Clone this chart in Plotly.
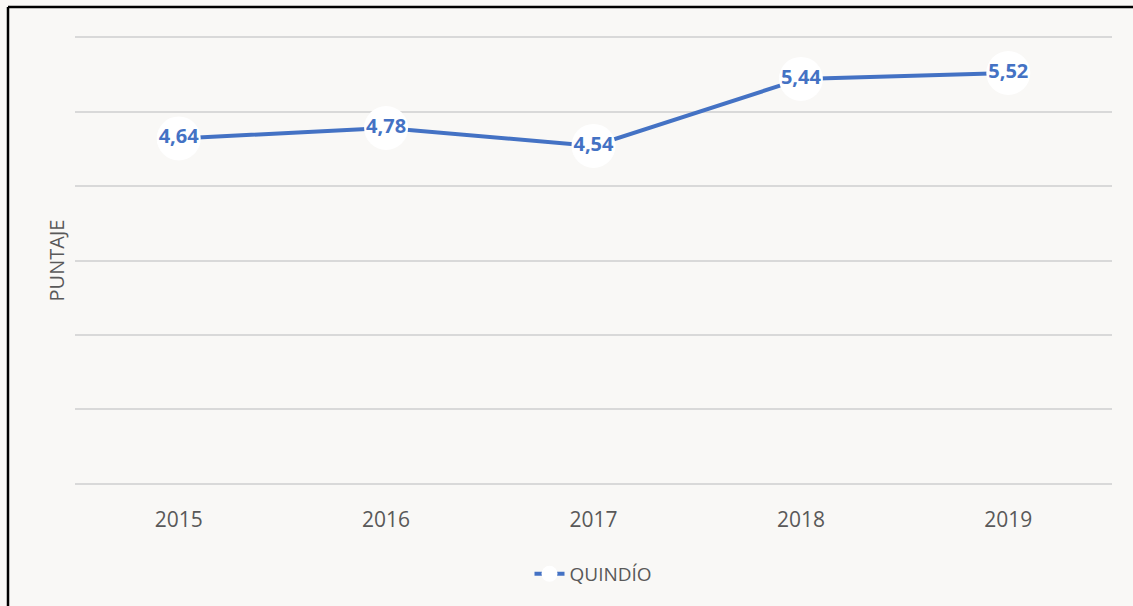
import plotly.graph_objects as go

years = ["2015", "2016", "2017", "2018", "2019"]
puntaje = [4.64, 4.78, 4.54, 5.44, 5.52]
series_name = "QUINDÍO"

W, H = 1133, 606
L, R, T, B = 75, 21, 35, 120
pw, ph = W - L - R, H - T - B

def px_x(p):
    return (p - L) / pw

def px_y(p):
    return (H - B - p) / ph

fig = go.Figure()
fig.add_trace(go.Scatter(
    x=years, y=puntaje, name=series_name,
    mode="lines+markers+text",
    line=dict(color="#4472C4", width=4),
    marker=dict(color="white", size=44, line=dict(width=0)),
    texttemplate="%{y:.2f}",
    textposition="middle center",
    textfont=dict(family="Open Sans", size=20, color="#4472C4", weight="bold"),
    cliponaxis=False,
))

fig.update_layout(
    width=W, height=H,
    margin=dict(l=L, r=R, t=T, b=B),
    paper_bgcolor="#f9f8f6",
    plot_bgcolor="rgba(0,0,0,0)",
    separators=",.",
    showlegend=True,
    legend=dict(orientation="h", x=0.5, xanchor="center", y=px_y(574), yanchor="middle",
                font=dict(family="Open Sans", size=19, color="#595959")),
    xaxis=dict(type="category", range=[-0.5, 4.5], showgrid=False, zeroline=False,
               showline=False, ticks="outside", ticklen=15, tickcolor="rgba(0,0,0,0)",
               tickfont=dict(family="Open Sans", size=21, color="#595959")),
    yaxis=dict(range=[-0.03, 6.03], dtick=1, showticklabels=False, showgrid=True,
               gridcolor="#d9d9d9", gridwidth=1.5, zeroline=False, showline=False,
               title=dict(text="PUNTAJE", standoff=4,
                          font=dict(family="Open Sans", size=20, color="#595959"))),
    shapes=[
        dict(type="line", xref="paper", yref="paper", x0=px_x(8), x1=px_x(8),
             y0=px_y(H + 10), y1=px_y(7), line=dict(color="black", width=2.5)),
        dict(type="line", xref="paper", yref="paper", x0=px_x(8), x1=px_x(W + 10),
             y0=px_y(7), y1=px_y(7), line=dict(color="black", width=2.5)),
    ],
)

fig.write_html("out.html", config={"displayModeBar": False},
               post_script="document.body.style.margin='0';")
